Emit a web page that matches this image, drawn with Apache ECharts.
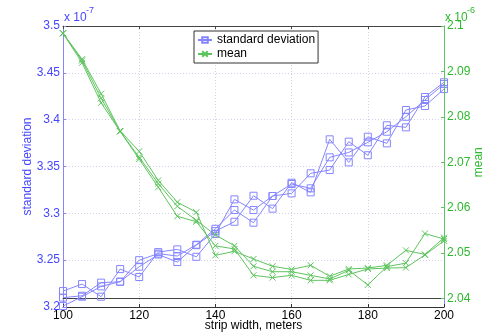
<!DOCTYPE html>
<html>
<head>
<meta charset="utf-8">
<script src="https://cdn.jsdelivr.net/npm/echarts@6/dist/echarts.min.js"></script>
<style>
  html, body { margin: 0; padding: 0; background: #fff; }
  #chart { width: 491px; height: 336px; }
</style>
</head>
<body>
<div id="chart"></div>
<script>
// strip widths (meters)
const widths = [100, 105, 110, 115, 120, 125, 130, 135, 140, 145, 150,
  155, 160, 165, 170, 175, 180, 185, 190, 195, 200];

// standard deviation runs, x 1e-7
const stdA = [3.217, 3.2245, 3.211, 3.2405, 3.232, 3.2586, 3.2615, 3.2536, 3.278, 3.3149, 3.3035,
  3.3185, 3.3213, 3.3427, 3.3462, 3.3765, 3.362, 3.394, 3.3918, 3.4242, 3.4399];
const stdB = [3.210, 3.212, 3.226, 3.227, 3.243, 3.256, 3.248, 3.266, 3.281, 3.291, 3.3188,
  3.305, 3.3327, 3.3224, 3.379, 3.3544, 3.3818, 3.3747, 3.4103, 3.4146, 3.4327];
const stdC = [3.201, 3.211, 3.222, 3.227, 3.250, 3.257, 3.2544, 3.2665, 3.2835, 3.3035, 3.290,
  3.3185, 3.3313, 3.3267, 3.3598, 3.365, 3.3758, 3.3871, 3.4031, 3.421, 3.438];

// mean runs, x 1e-6
const meanA = [2.0984, 2.0927, 2.0851, 2.0769, 2.0724, 2.066, 2.0612, 2.059, 2.0495, 2.0504, 2.0487,
  2.0471, 2.0464, 2.0473, 2.0449, 2.0465, 2.0467, 2.0473, 2.0506, 2.0497, 2.0534];
const meanB = [2.0984, 2.0924, 2.0841, 2.0768, 2.0711, 2.0653, 2.0603, 2.0572, 2.054, 2.0516, 2.0471,
  2.0459, 2.0459, 2.0451, 2.0443, 2.0462, 2.043, 2.047, 2.0478, 2.0543, 2.0531];
const meanC = [2.0984, 2.0919, 2.0831, 2.0768, 2.0707, 2.0645, 2.0581, 2.0569, 2.0516, 2.0509, 2.0451,
  2.0446, 2.0451, 2.044, 2.044, 2.0453, 2.0465, 2.0467, 2.0468, 2.0496, 2.0527];

const blueText = "#4646ff";
const blueLine = "#8585ff";
const greenText = "#2cb82c";
const greenLine = "#5ec45e";
const font = "Liberation Sans, Arial, sans-serif";

const chart = echarts.init(document.getElementById("chart"));

function pairs(ys) {
  return widths.map((w, i) => [w, ys[i]]);
}

function stdSeries(ys) {
  return {
    name: "standard deviation",
    type: "line",
    xAxisIndex: 0,
    yAxisIndex: 0,
    data: pairs(ys),
    symbol: "rect",
    symbolSize: 7,
    lineStyle: { color: blueLine, width: 1 },
    itemStyle: { color: "transparent", borderColor: blueLine, borderWidth: 1 },
  };
}

function meanSeries(ys) {
  return {
    name: "mean",
    type: "line",
    xAxisIndex: 1,
    yAxisIndex: 2,
    data: pairs(ys),
    symbol: "path://M0,0L10,10M10,0L0,10",
    symbolSize: 6,
    lineStyle: { color: greenLine, width: 1 },
    itemStyle: { color: "transparent", borderColor: greenLine, borderWidth: 1 },
  };
}

const dotted = { show: true, lineStyle: { color: "#d2d2ea", type: [1, 2], width: 1 } };

const option = {
  animation: false,
  grid: [
    { left: 63, right: 47, top: 26, bottom: 29, outerBoundsMode: "none", containLabel: false },
    { left: 63, right: 47, top: 26, bottom: 37.5, outerBoundsMode: "none", containLabel: false },
  ],
  legend: {
    left: 194,
    top: 31,
    orient: "vertical",
    data: ["standard deviation", "mean"],
    itemWidth: 14,
    itemHeight: 7,
    itemGap: 0,
    padding: [2, 3, 2, 3],
    backgroundColor: "#fff",
    borderColor: "#333",
    borderWidth: 1,
    borderRadius: 0,
    textStyle: { color: "#000", fontSize: 12, fontFamily: font, lineHeight: 14 },
  },
  xAxis: [
    {
      gridIndex: 0,
      type: "value",
      min: 100, max: 200, interval: 20,
      name: "strip width, meters",
      nameLocation: "middle",
      nameGap: 13,
      nameMoveOverlap: false,
      nameTextStyle: { color: "#000", fontSize: 12, fontFamily: font },
      axisLine: { lineStyle: { color: "#333" } },
      axisTick: { inside: true, length: 3, lineStyle: { color: "#333" } },
      axisLabel: { color: "#000", fontSize: 12, fontFamily: font, margin: 3 },
      splitLine: dotted,
    },
    {
      gridIndex: 1,
      type: "value",
      min: 100, max: 200, interval: 20,
      axisLine: { lineStyle: { color: "#444" } },
      axisTick: { show: false },
      axisLabel: { show: false },
      splitLine: { show: false },
    },
    {
      gridIndex: 0,
      type: "value",
      position: "top",
      min: 100, max: 200, interval: 20,
      axisLine: { lineStyle: { color: "#444" } },
      axisTick: { inside: true, length: 3, lineStyle: { color: "#444" } },
      axisLabel: { show: false },
      splitLine: { show: false },
    },
  ],
  yAxis: [
    {
      gridIndex: 0,
      type: "value",
      min: 3.2, max: 3.5, interval: 0.05,
      name: "standard deviation",
      nameLocation: "middle",
      nameRotate: 90,
      nameGap: 29,
      nameMoveOverlap: false,
      nameTextStyle: { color: blueText, fontSize: 12, fontFamily: font },
      axisLine: { show: true, lineStyle: { color: blueLine } },
      axisTick: { show: true, inside: true, length: 3, lineStyle: { color: blueLine } },
      axisLabel: { color: blueText, fontSize: 12, fontFamily: font, margin: 3 },
      splitLine: dotted,
    },
    {
      gridIndex: 0,
      type: "value",
      position: "right",
      min: 3.2, max: 3.5, interval: 0.05,
      axisLine: { show: true, lineStyle: { color: blueLine } },
      axisTick: { show: false },
      axisLabel: { show: false },
      splitLine: { show: false },
    },
    {
      gridIndex: 1,
      type: "value",
      position: "right",
      min: 2.04, max: 2.1, interval: 0.01,
      name: "mean",
      nameLocation: "middle",
      nameRotate: 90,
      nameGap: 29,
      nameMoveOverlap: false,
      nameTextStyle: { color: greenText, fontSize: 12, fontFamily: font },
      z: 5,
      axisLine: { show: true, lineStyle: { color: greenLine } },
      axisTick: { show: true, inside: true, length: 3, lineStyle: { color: greenLine } },
      axisLabel: { color: greenText, fontSize: 12, fontFamily: font, margin: 3 },
      splitLine: { show: false },
    },
  ],
  graphic: [
    { type: "text", left: 64, top: 12, style: { text: "x 10", fill: blueText, font: "12px " + font } },
    { type: "text", left: 86, top: 6, style: { text: "-7", fill: blueText, font: "9px " + font } },
    { type: "text", left: 445, top: 12, style: { text: "x 10", fill: greenText, font: "12px " + font } },
    { type: "text", left: 467, top: 6, style: { text: "-6", fill: greenText, font: "9px " + font } },
  ],
  series: [
    stdSeries(stdA), stdSeries(stdB), stdSeries(stdC),
    meanSeries(meanA), meanSeries(meanB), meanSeries(meanC),
  ],
};

chart.setOption(option);
</script>
</body>
</html>
